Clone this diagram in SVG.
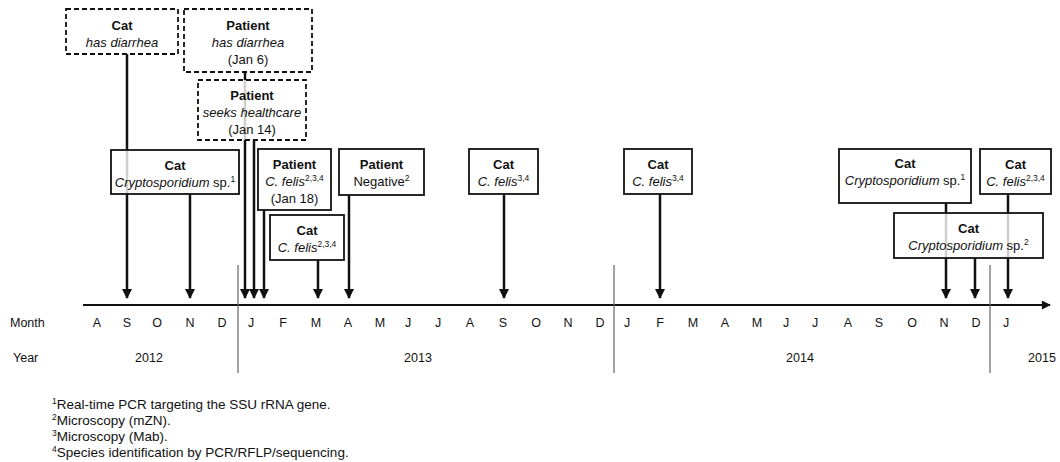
<svg xmlns="http://www.w3.org/2000/svg" width="1060" height="462" viewBox="0 0 1060 462">
<style>
text{font-family:"Liberation Sans",Arial,sans-serif;fill:#111;}
.t{font-size:13px;text-anchor:middle;}
.b{font-weight:bold;}
.i{font-style:italic;}
.sup{font-size:8.5px;}
.box{fill:#fff;fill-opacity:0.8;stroke:#111;stroke-width:1.8;}
.dash{fill:#fff;fill-opacity:0.8;stroke:#111;stroke-width:1.8;stroke-dasharray:5 3;}
.arr{stroke:#111;stroke-width:2.5;fill:none;marker-end:url(#ah);}
.div{stroke:#666;stroke-width:1.2;}
.lab{font-size:12.5px;text-anchor:middle;}
.fn{font-size:13.5px;}
.fsup{font-size:8.5px;}
</style>
<defs>
<marker id="ah" viewBox="0 0 10 10" refX="9" refY="5" markerUnits="userSpaceOnUse" markerWidth="10" markerHeight="10" orient="auto">
<path d="M0,0 L10,5 L0,10 z" fill="#111"/>
</marker>
<marker id="ax" viewBox="0 0 10 10" refX="9" refY="5" markerUnits="userSpaceOnUse" markerWidth="11" markerHeight="9" orient="auto">
<path d="M0,0 L10,5 L0,10 z" fill="#111"/>
</marker>
</defs>

<g id="timeline">
<line x1="83" y1="305" x2="1050" y2="305" stroke="#111" stroke-width="2" marker-end="url(#ax)"/>
<line class="div" x1="238" y1="265" x2="238" y2="373"/>
<line class="div" x1="614" y1="265" x2="614" y2="373"/>
<line class="div" x1="990" y1="265" x2="990" y2="373"/>
<text x="10" y="327" font-size="12.5">Month</text>
<text x="13" y="362" font-size="12.5">Year</text>
<text x="97" y="327" class="lab">A</text>
<text x="127" y="327" class="lab">S</text>
<text x="157" y="327" class="lab">O</text>
<text x="190" y="327" class="lab">N</text>
<text x="222" y="327" class="lab">D</text>
<text x="251" y="327" class="lab">J</text>
<text x="283" y="327" class="lab">F</text>
<text x="316" y="327" class="lab">M</text>
<text x="348" y="327" class="lab">A</text>
<text x="380" y="327" class="lab">M</text>
<text x="408" y="327" class="lab">J</text>
<text x="438" y="327" class="lab">J</text>
<text x="470" y="327" class="lab">A</text>
<text x="503" y="327" class="lab">S</text>
<text x="536" y="327" class="lab">O</text>
<text x="568" y="327" class="lab">N</text>
<text x="600" y="327" class="lab">D</text>
<text x="627" y="327" class="lab">J</text>
<text x="660" y="327" class="lab">F</text>
<text x="693" y="327" class="lab">M</text>
<text x="725" y="327" class="lab">A</text>
<text x="757" y="327" class="lab">M</text>
<text x="786" y="327" class="lab">J</text>
<text x="815" y="327" class="lab">J</text>
<text x="848" y="327" class="lab">A</text>
<text x="879" y="327" class="lab">S</text>
<text x="912" y="327" class="lab">O</text>
<text x="944" y="327" class="lab">N</text>
<text x="976" y="327" class="lab">D</text>
<text x="1006" y="327" class="lab">J</text>
<text x="149" y="362" class="lab">2012</text>
<text x="418" y="362" class="lab">2013</text>
<text x="800" y="362" class="lab">2014</text>
<text x="1042" y="362" class="lab">2015</text>
</g>

<g id="connectors">
<line class="arr" x1="127" y1="54" x2="127" y2="298"/>
<line class="arr" x1="190" y1="194" x2="190" y2="298"/>
<line class="arr" x1="245" y1="72" x2="245" y2="298"/>
<line class="arr" x1="254" y1="140" x2="254" y2="298"/>
<line class="arr" x1="264" y1="210" x2="264" y2="298"/>
<line class="arr" x1="318" y1="260" x2="318" y2="298"/>
<line class="arr" x1="349" y1="195" x2="349" y2="298"/>
<line class="arr" x1="504" y1="194" x2="504" y2="298"/>
<line class="arr" x1="660" y1="194" x2="660" y2="298"/>
<line class="arr" x1="946" y1="203" x2="946" y2="298"/>
<line class="arr" x1="975" y1="258" x2="975" y2="298"/>
<line class="arr" x1="1008" y1="194" x2="1008" y2="298"/>
</g>

<g id="cat-diarrhea">
<rect class="dash" x="66" y="9" width="112" height="45"/>
<text class="t b" x="122" y="30">Cat</text>
<text class="t i" x="122" y="47">has diarrhea</text>
</g>
<g id="patient-diarrhea">
<rect class="dash" x="184" y="9" width="128" height="63"/>
<text class="t b" x="248" y="30">Patient</text>
<text class="t i" x="248" y="47">has diarrhea</text>
<text class="t" x="248" y="64">(Jan 6)</text>
</g>
<g id="patient-seeks">
<rect class="dash" x="198" y="80" width="108" height="60"/>
<text class="t b" x="252" y="100">Patient</text>
<text class="t i" x="252" y="117">seeks healthcare</text>
<text class="t" x="252" y="134">(Jan 14)</text>
</g>
<g id="cat-crypto-2012">
<rect class="box" x="111" y="150" width="128" height="44"/>
<text class="t b" x="175" y="170">Cat</text>
<text class="t" x="175" y="187"><tspan class="i">Cryptosporidium</tspan> sp.<tspan class="sup" dy="-5">1</tspan></text>
</g>
<g id="patient-cfelis">
<rect class="box" x="258" y="149" width="73" height="61"/>
<text class="t b" x="294.5" y="169">Patient</text>
<text class="t" x="294.5" y="186"><tspan class="i">C. felis</tspan><tspan class="sup" dy="-5">2,3,4</tspan></text>
<text class="t" x="294.5" y="203">(Jan 18)</text>
</g>
<g id="cat-cfelis-mar">
<rect class="box" x="270" y="215" width="74" height="45"/>
<text class="t b" x="307" y="235">Cat</text>
<text class="t" x="307" y="252"><tspan class="i">C. felis</tspan><tspan class="sup" dy="-5">2,3,4</tspan></text>
</g>
<g id="patient-negative">
<rect class="box" x="339" y="149" width="85" height="46"/>
<text class="t b" x="381.5" y="169">Patient</text>
<text class="t" x="381.5" y="186">Negative<tspan class="sup" dy="-5">2</tspan></text>
</g>
<g id="cat-cfelis-sep">
<rect class="box" x="469" y="149" width="69" height="45"/>
<text class="t b" x="503.5" y="169">Cat</text>
<text class="t" x="503.5" y="186"><tspan class="i">C. felis</tspan><tspan class="sup" dy="-5">3,4</tspan></text>
</g>
<g id="cat-cfelis-feb">
<rect class="box" x="624" y="149" width="68" height="45"/>
<text class="t b" x="658" y="169">Cat</text>
<text class="t" x="658" y="186"><tspan class="i">C. felis</tspan><tspan class="sup" dy="-5">3,4</tspan></text>
</g>
<g id="cat-crypto-nov">
<rect class="box" x="839" y="149" width="132" height="54"/>
<text class="t b" x="905" y="168">Cat</text>
<text class="t" x="905" y="185"><tspan class="i">Cryptosporidium</tspan> sp.<tspan class="sup" dy="-5">1</tspan></text>
</g>
<g id="cat-cfelis-jan15">
<rect class="box" x="980" y="149" width="71" height="45"/>
<text class="t b" x="1015.5" y="169">Cat</text>
<text class="t" x="1015.5" y="186"><tspan class="i">C. felis</tspan><tspan class="sup" dy="-5">2,3,4</tspan></text>
</g>
<g id="cat-crypto-dec">
<rect class="box" x="894" y="213" width="149" height="45"/>
<text class="t b" x="968.5" y="233">Cat</text>
<text class="t" x="968.5" y="250"><tspan class="i">Cryptosporidium</tspan> sp.<tspan class="sup" dy="-5">2</tspan></text>
</g>

<g id="footnotes">
<text class="fn" x="52" y="409"><tspan class="fsup" dy="-5">1</tspan><tspan dy="5">Real-time PCR targeting the SSU rRNA gene.</tspan></text>
<text class="fn" x="52" y="425"><tspan class="fsup" dy="-5">2</tspan><tspan dy="5">Microscopy (mZN).</tspan></text>
<text class="fn" x="52" y="441"><tspan class="fsup" dy="-5">3</tspan><tspan dy="5">Microscopy (Mab).</tspan></text>
<text class="fn" x="52" y="457"><tspan class="fsup" dy="-5">4</tspan><tspan dy="5">Species identification by PCR/RFLP/sequencing.</tspan></text>
</g>
</svg>
